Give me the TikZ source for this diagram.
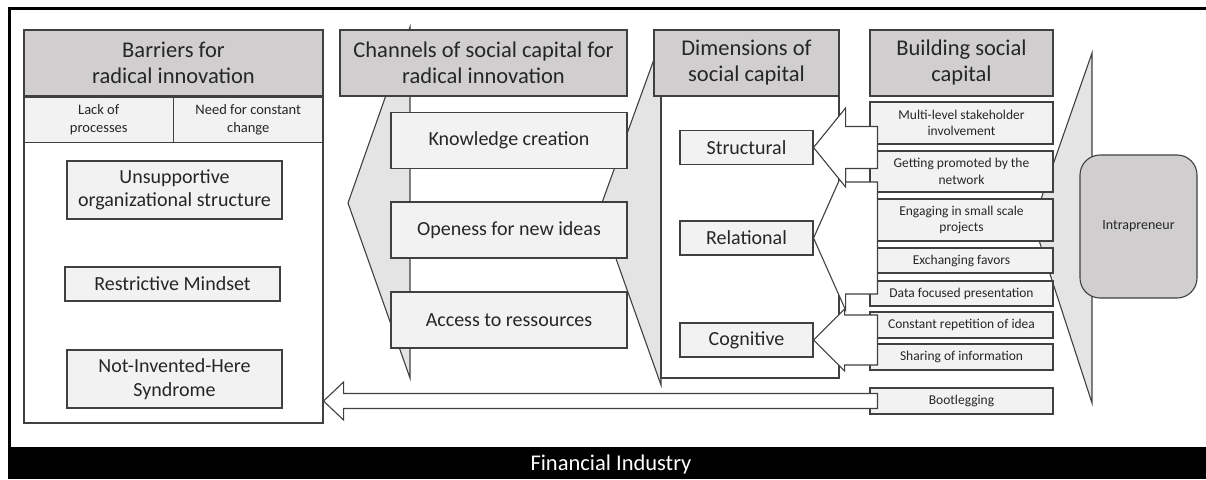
\documentclass[tikz,border=0pt]{standalone}
\usepackage{fontspec}
\setmainfont{Carlito}

\definecolor{linegray}{HTML}{404040}
\definecolor{headgray}{HTML}{D0CECE}
\definecolor{boxgray}{HTML}{F2F2F2}
\definecolor{funnelgray}{HTML}{E4E4E4}
\definecolor{textgray}{HTML}{262626}

\tikzset{
  outline/.style={draw=linegray, line width=1.1pt, text=textgray, inner sep=0pt, align=center},
  head/.style={outline, fill=headgray, font=\fontsize{22.5}{26}\selectfont},
  panel/.style={outline, fill=white},
  cell/.style={outline, fill=boxgray, font=\fontsize{14.5}{17.5}\selectfont},
  item/.style={outline, fill=boxgray, font=\fontsize{20}{23.5}\selectfont},
  small/.style={outline, fill=boxgray, minimum width=183, font=\fontsize{13.5}{16.5}\selectfont},
  funnel/.style={draw=linegray, line width=1.1pt, fill=funnelgray, line join=miter},
  fat/.style={draw=linegray, line width=1.1pt, fill=white, line join=miter}
}

% block arrow: tip, tail, half shaft, half head, head length
\newcommand{\fatarrow}[5]{%
  \draw[fat] (#1) -- ([shift={(#5,-#4)}]#1) -- ([shift={(#5,-#3)}]#1)
    -- ([shift={(0,-#3)}]#2) -- ([shift={(0,#3)}]#2)
    -- ([shift={(#5,#3)}]#1) -- ([shift={(#5,#4)}]#1) -- cycle;}

\begin{document}
\begin{tikzpicture}[x=1pt,y=-1pt]
  \useasboundingbox (0,0) rectangle (1206,479);
  \clip (0,0) rectangle (1206,479);

  % frame and industry band
  \draw[line width=3pt] (9,449) -- (9,8) -- (1215,8);
  \fill[black] (8,447) rectangle (1215,479);
  \node[text=white, font=\fontsize{22.5}{26}\selectfont] (industry) at (611,464) {Financial Industry};

  % funnels behind the columns
  \draw[funnel] (410,27) -- (348,203) -- (410,378) -- cycle;
  \draw[funnel] (661,40) -- (599,211) -- (661,385) -- cycle;
  \draw[funnel] (1092,53) -- (1033,222) -- (1092,403) -- cycle;

  % barriers
  \node[panel, minimum width=299, minimum height=393] (barriers) at (173.5,226.5) {};
  \node[head, anchor=north, minimum width=299, minimum height=66] (barrierhead) at (barriers.north) {Barriers for\\radical innovation};
  \node[cell, anchor=north west, minimum width=149.5, minimum height=45] (lack) at (barrierhead.south west) {Lack of\\processes};
  \node[cell, anchor=north east, minimum width=149.5, minimum height=45] (change) at (barrierhead.south east) {Need for constant\\change};
  \node[item, minimum width=215, minimum height=58] (unsupportive) at (174.5,190) {Unsupportive\\organizational structure};
  \node[item, minimum width=215, minimum height=34] (mindset) at (172.5,284) {Restrictive Mindset};
  \node[item, minimum width=215, minimum height=58] (nih) at (174.5,379) {Not-Invented-Here\\Syndrome};

  % channels
  \node[head, minimum width=287, minimum height=66] (channelhead) at (483.5,63) {Channels of social capital for\\radical innovation};
  \foreach \nm/\yc/\txt in {knowledge/140.5/Knowledge creation, openess/230/Openess for new ideas, access/320/Access to ressources}
    \node[item, minimum width=236, minimum height=56] (\nm) at (509,\yc) {\txt};

  % dimensions
  \node[panel, minimum width=178, minimum height=282] (dims) at (750,237) {};
  \node[head, minimum width=185, minimum height=66] (dimhead) at (746.5,63) {Dimensions of\\social capital};
  \foreach \nm/\yc/\txt in {structural/147.5/Structural, relational/238/Relational, cognitive/340/Cognitive}
    \node[item, minimum width=133, minimum height=34] (\nm) at (746.5,\yc) {\txt};

  % building social capital
  \node[head, minimum width=183, minimum height=66] (buildhead) at (961.5,63) {Building social\\capital};
  \foreach \nm/\yc/\hgt/\txt in {
      multi/123/42/{Multi-level stakeholder\\involvement},
      promoted/171.5/41/{Getting promoted by the\\network},
      engaging/220/42/{Engaging in small scale\\projects},
      favors/260.5/25/{Exchanging favors},
      datapres/293.5/25/{Data focused presentation},
      repetition/325/26/{Constant repetition of idea},
      sharing/357/26/{Sharing of information},
      bootleg/401/26/{Bootlegging}}
    \node[small, minimum height=\hgt] (\nm) at (961.5,\yc) {\txt};

  \node[outline, fill=headgray, rounded corners=20pt, minimum width=117, minimum height=143,
        font=\fontsize{14}{17}\selectfont] (intra) at (1138.5,226.5) {Intrapreneur};

  % block arrows
  \coordinate (colleft) at ([xshift=8pt]multi.west);
  \coordinate (tailR) at (colleft |- relational.east);
  \coordinate (tailS) at (colleft |- structural.east);
  \coordinate (tailC) at (colleft |- cognitive.east);
  \coordinate (bootTip) at (barriers.east |- bootleg.west);
  \coordinate (bootTail) at ([xshift=8pt]bootleg.west);
  \fatarrow{relational.east}{tailR}{56}{72}{32}
  \fatarrow{structural.east}{tailS}{21}{39.5}{32}
  \fatarrow{cognitive.east}{tailC}{25}{31}{31}
  \fatarrow{bootTip}{bootTail}{7.5}{19}{20}
\end{tikzpicture}
\end{document}
